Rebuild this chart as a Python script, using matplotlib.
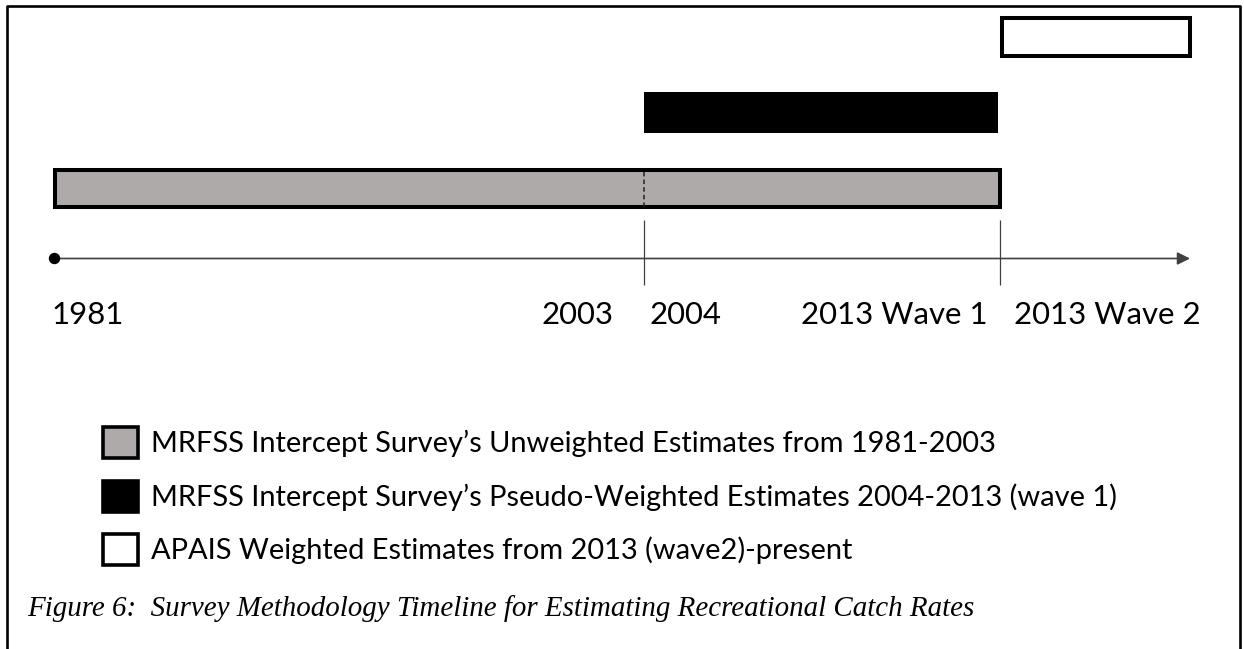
import matplotlib
matplotlib.use('Agg')
import matplotlib.pyplot as plt
from matplotlib.patches import Rectangle
from matplotlib.lines import Line2D

# schematic timeline units: 1981 = 0, arrow head (present) = 100
event_labels = ['1981', '2003', '2004', '2013 Wave 1', '2013 Wave 2']
event_pos = [0, 51.9, 51.9, 83.3, 83.3]
label_dx = [-3, -30, 6, -13, 14]          # pixel offsets of the labels
label_ha = ['left', 'right', 'left', 'right', 'left']
split_pos = [51.9, 83.3]
arrow_end = 100

period_names = [
    "MRFSS Intercept Survey\u2019s Unweighted Estimates from 1981-2003",
    "MRFSS Intercept Survey\u2019s Pseudo-Weighted Estimates 2004-2013 (wave 1)",
    "APAIS Weighted Estimates from 2013 (wave2)-present",
]
period_start = [0.1, 51.9, 83.45]
period_end = [83.3, 83.1, 100]
period_row = [0, 1, 2]
period_height = [0.49, 0.54, 0.50]
period_colors = ['#AEAAAA', 'black', 'white']
period_lw = [2.9, 0, 2.9]

caption = "Figure 6:  Survey Methodology Timeline for Estimating Recreational Catch Rates"

W, H, DPI = 1244, 649, 100
fig = plt.figure(figsize=(W / DPI, H / DPI), dpi=DPI)
renderer = fig.canvas.get_renderer()

# x: 0 -> px 54, 100 -> px 1190 ; y: row 0 centre at px 188.5, 75.75 px per row
px_x = (1190 - 54) / 100
px_y = 75.75
ax = fig.add_axes([0, 0, 1, 1])
ax.set_xlim(-54 / px_x, (W - 54) / px_x)
ax.set_ylim((188.5 - H) / px_y, 188.5 / px_y)
ax.axis('off')

axis_y = (188.5 - 258.5) / px_y
tick_lo, tick_hi = (188.5 - 285) / px_y, (188.5 - 220) / px_y
label_y = (188.5 - 324) / px_y


def fit_size(text, target_px, ref=20, **kw):
    t = fig.text(0, 0, text, fontsize=ref, **kw)
    w = t.get_window_extent(renderer).width
    t.remove()
    return ref * target_px / w


# bars
starts = period_start
widths = [e - s for s, e in zip(period_start, period_end)]
ax.barh(period_row, widths, left=starts, height=period_height,
        color=period_colors, edgecolor='black', linewidth=period_lw, zorder=2)

# dashed split inside the grey bar
ax.vlines(split_pos[0], -period_height[0] / 2, period_height[0] / 2,
          colors='#222222', linestyles=(0, (3, 2)), linewidth=1.1, zorder=3)

# timeline axis with arrow and start dot
ax.annotate('', xy=(arrow_end, axis_y), xytext=(0, axis_y),
            arrowprops=dict(arrowstyle='-|>', color='#404040', lw=1.2,
                            mutation_scale=19, shrinkA=0, shrinkB=0))
ax.plot([0], [axis_y], 'o', color='black', ms=7.2, zorder=4)
ax.vlines(split_pos, tick_lo, tick_hi, colors='#404040', linewidth=0.9)

# event labels
lab_fs = fit_size('2013 Wave 1', 186, family='Lato')
for lab, x, dx, ha in zip(event_labels, event_pos, label_dx, label_ha):
    ax.annotate(lab, xy=(x, label_y), xytext=(dx, 0), textcoords='offset pixels',
                ha=ha, va='baseline', fontsize=lab_fs, family='Lato', color='black')

# legend
leg_fs = fit_size(period_names[0], 848, family='Lato')
fs_px = leg_fs * DPI / 72
handles = [Rectangle((0, 0), 1, 1, facecolor=c, edgecolor='black',
                     linewidth=2.6) for c in period_colors]
hh = (31 / fs_px - 0.245) / 0.65
ax.legend(handles, period_names, loc='upper left',
          bbox_to_anchor=(103 / W, 1 - 427 / H), bbox_transform=fig.transFigure,
          frameon=False, borderpad=0, borderaxespad=0,
          prop={'family': 'Lato', 'size': leg_fs},
          handlelength=35 / fs_px, handleheight=hh,
          handletextpad=13 / fs_px, labelspacing=(53.5 - 31) / fs_px)

# caption
cap_fs = fit_size(caption, 950, family='Liberation Serif', style='italic')
fig.text(27 / W, 1 - 616 / H, caption, family='Liberation Serif', style='italic',
         fontsize=cap_fs, va='baseline', ha='left')

# page frame (left, top, right)
fig.add_artist(Line2D([7 / W, 7 / W, 1240 / W, 1240 / W],
                      [0, 1 - 6 / H, 1 - 6 / H, 0],
                      transform=fig.transFigure, color='black', lw=1.9))

fig.savefig('out.png', dpi=DPI)
